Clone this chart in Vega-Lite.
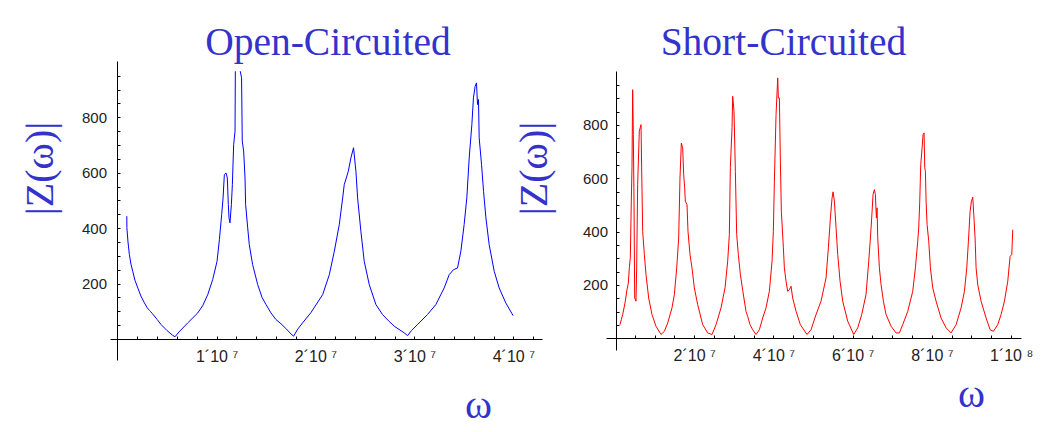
{
  "$schema": "https://vega.github.io/schema/vega-lite/v6.json",
  "padding": {"left": 19, "top": 22, "right": 0, "bottom": 0},
  "background": "white",
  "bounds": "flush",
  "center": true,
  "spacing": 64,
  "config": {"view": {"stroke": null}},
  "datasets": {
    "open": [
      {"omega": 930000, "Z": 443}, {"omega": 935000, "Z": 401}, {"omega": 1050000, "Z": 350}, {"omega": 1190000, "Z": 304},
      {"omega": 1350000, "Z": 270}, {"omega": 1530000, "Z": 244}, {"omega": 1750000, "Z": 212}, {"omega": 2040000, "Z": 184},
      {"omega": 2350000, "Z": 155}, {"omega": 2710000, "Z": 130}, {"omega": 3000000, "Z": 112}, {"omega": 3220000, "Z": 103},
      {"omega": 3300000, "Z": 100}, {"omega": 3500000, "Z": 92}, {"omega": 4000000, "Z": 70}, {"omega": 4390000, "Z": 52},
      {"omega": 5000000, "Z": 30}, {"omega": 5570000, "Z": 13}, {"omega": 5810000, "Z": 8}, {"omega": 6200000, "Z": 25},
      {"omega": 7090000, "Z": 58}, {"omega": 8100000, "Z": 94}, {"omega": 8600000, "Z": 120}, {"omega": 9110000, "Z": 160},
      {"omega": 9610000, "Z": 214}, {"omega": 10050000, "Z": 280}, {"omega": 10290000, "Z": 359}, {"omega": 10520000, "Z": 449},
      {"omega": 10660000, "Z": 509}, {"omega": 10790000, "Z": 593}, {"omega": 10960000, "Z": 599}, {"omega": 11090000, "Z": 581},
      {"omega": 11190000, "Z": 485}, {"omega": 11260000, "Z": 437}, {"omega": 11360000, "Z": 419}, {"omega": 11500000, "Z": 485},
      {"omega": 11600000, "Z": 557}, {"omega": 11730000, "Z": 701}, {"omega": 11870000, "Z": 750}, {"omega": 11900000, "Z": 966},
      {"omega": 12150000, "Z": null},
      {"omega": 12400000, "Z": 966}, {"omega": 12530000, "Z": 942}, {"omega": 12600000, "Z": 714}, {"omega": 12740000, "Z": 678},
      {"omega": 12880000, "Z": 581}, {"omega": 12940000, "Z": 485}, {"omega": 13150000, "Z": 401}, {"omega": 13310000, "Z": 340},
      {"omega": 13650000, "Z": 268}, {"omega": 14160000, "Z": 196}, {"omega": 14600000, "Z": 150}, {"omega": 15000000, "Z": 124},
      {"omega": 15500000, "Z": 94}, {"omega": 16000000, "Z": 70}, {"omega": 16510000, "Z": 55}, {"omega": 17000000, "Z": 38},
      {"omega": 17530000, "Z": 18}, {"omega": 17790000, "Z": 10}, {"omega": 18200000, "Z": 35}, {"omega": 18700000, "Z": 58},
      {"omega": 19540000, "Z": 95}, {"omega": 20730000, "Z": 160}, {"omega": 21400000, "Z": 232}, {"omega": 21910000, "Z": 317},
      {"omega": 22410000, "Z": 413}, {"omega": 22750000, "Z": 509}, {"omega": 22910000, "Z": 557}, {"omega": 23320000, "Z": 605},
      {"omega": 23580000, "Z": 653}, {"omega": 23850000, "Z": 690}, {"omega": 24090000, "Z": 605}, {"omega": 24260000, "Z": 509},
      {"omega": 24590000, "Z": 389}, {"omega": 24930000, "Z": 280}, {"omega": 25440000, "Z": 196}, {"omega": 26110000, "Z": 124},
      {"omega": 26780000, "Z": 88}, {"omega": 27400000, "Z": 65}, {"omega": 27960000, "Z": 46}, {"omega": 28970000, "Z": 22},
      {"omega": 29310000, "Z": 12}, {"omega": 29700000, "Z": 30}, {"omega": 30320000, "Z": 52}, {"omega": 31320000, "Z": 88},
      {"omega": 32170000, "Z": 124}, {"omega": 33010000, "Z": 184}, {"omega": 33520000, "Z": 232}, {"omega": 33960000, "Z": 250},
      {"omega": 34360000, "Z": 256}, {"omega": 34700000, "Z": 317}, {"omega": 35030000, "Z": 413}, {"omega": 35300000, "Z": 509},
      {"omega": 35540000, "Z": 653}, {"omega": 35810000, "Z": 774}, {"omega": 35970000, "Z": 870}, {"omega": 36140000, "Z": 912},
      {"omega": 36280000, "Z": 924}, {"omega": 36380000, "Z": 846}, {"omega": 36480000, "Z": 864}, {"omega": 36550000, "Z": 726},
      {"omega": 36790000, "Z": 629}, {"omega": 36990000, "Z": 533}, {"omega": 37230000, "Z": 437}, {"omega": 37560000, "Z": 340},
      {"omega": 38070000, "Z": 244}, {"omega": 38570000, "Z": 184}, {"omega": 39240000, "Z": 130}, {"omega": 39980000, "Z": 84}
    ],
    "short": [
      {"omega": 1260000, "Z": 51}, {"omega": 1600000, "Z": 70}, {"omega": 1940000, "Z": 89}, {"omega": 2530000, "Z": 132},
      {"omega": 3030000, "Z": 182}, {"omega": 3370000, "Z": 207}, {"omega": 3620000, "Z": 264}, {"omega": 3870000, "Z": 302},
      {"omega": 4120000, "Z": 514}, {"omega": 4290000, "Z": 639}, {"omega": 4460000, "Z": 932}, {"omega": 4630000, "Z": 764},
      {"omega": 4800000, "Z": 514}, {"omega": 4970000, "Z": 151}, {"omega": 5300000, "Z": 139}, {"omega": 5470000, "Z": 264},
      {"omega": 5720000, "Z": 576}, {"omega": 6140000, "Z": 776}, {"omega": 6570000, "Z": 801}, {"omega": 6730000, "Z": 639},
      {"omega": 6990000, "Z": 401}, {"omega": 7410000, "Z": 314}, {"omega": 7830000, "Z": 239}, {"omega": 8500000, "Z": 151},
      {"omega": 9340000, "Z": 89}, {"omega": 10350000, "Z": 45}, {"omega": 11620000, "Z": 14}, {"omega": 12460000, "Z": 26},
      {"omega": 13300000, "Z": 57}, {"omega": 14390000, "Z": 114}, {"omega": 14990000, "Z": 164}, {"omega": 15580000, "Z": 264},
      {"omega": 16080000, "Z": 376}, {"omega": 16410000, "Z": 601}, {"omega": 16750000, "Z": 732}, {"omega": 17090000, "Z": 714},
      {"omega": 17340000, "Z": 614}, {"omega": 17590000, "Z": 564}, {"omega": 17760000, "Z": 514}, {"omega": 18180000, "Z": 501},
      {"omega": 18430000, "Z": 401}, {"omega": 18940000, "Z": 314}, {"omega": 19440000, "Z": 264}, {"omega": 20030000, "Z": 189},
      {"omega": 20880000, "Z": 126}, {"omega": 22140000, "Z": 51}, {"omega": 23400000, "Z": 20}, {"omega": 24490000, "Z": 14},
      {"omega": 25510000, "Z": 51}, {"omega": 26770000, "Z": 114}, {"omega": 27780000, "Z": 189}, {"omega": 28450000, "Z": 289},
      {"omega": 28870000, "Z": 389}, {"omega": 29120000, "Z": 639}, {"omega": 29550000, "Z": 789}, {"omega": 29710000, "Z": 907},
      {"omega": 30050000, "Z": 851}, {"omega": 30390000, "Z": 626}, {"omega": 30720000, "Z": 389}, {"omega": 31140000, "Z": 314},
      {"omega": 31650000, "Z": 240}, {"omega": 32240000, "Z": 180}, {"omega": 33080000, "Z": 100}, {"omega": 33500000, "Z": 82},
      {"omega": 34090000, "Z": 51}, {"omega": 34760000, "Z": 32}, {"omega": 35610000, "Z": 14}, {"omega": 36450000, "Z": 32},
      {"omega": 37290000, "Z": 76}, {"omega": 38130000, "Z": 114}, {"omega": 38970000, "Z": 176}, {"omega": 39650000, "Z": 289},
      {"omega": 39980000, "Z": 401}, {"omega": 40240000, "Z": 589}, {"omega": 40660000, "Z": 839}, {"omega": 41080000, "Z": 976},
      {"omega": 41250000, "Z": 901}, {"omega": 41500000, "Z": 901}, {"omega": 41750000, "Z": 664}, {"omega": 42000000, "Z": 476},
      {"omega": 42510000, "Z": 339}, {"omega": 42760000, "Z": 264}, {"omega": 43180000, "Z": 214}, {"omega": 43600000, "Z": 176},
      {"omega": 44020000, "Z": 182}, {"omega": 44440000, "Z": 195}, {"omega": 44860000, "Z": 151}, {"omega": 45710000, "Z": 101},
      {"omega": 46800000, "Z": 51}, {"omega": 48480000, "Z": 14}, {"omega": 49490000, "Z": 32}, {"omega": 50760000, "Z": 89},
      {"omega": 52020000, "Z": 139}, {"omega": 53280000, "Z": 226}, {"omega": 53870000, "Z": 339}, {"omega": 54380000, "Z": 451},
      {"omega": 54800000, "Z": 526}, {"omega": 55050000, "Z": 549}, {"omega": 55390000, "Z": 514}, {"omega": 55810000, "Z": 414},
      {"omega": 56230000, "Z": 314}, {"omega": 56820000, "Z": 214}, {"omega": 57490000, "Z": 139}, {"omega": 58750000, "Z": 64},
      {"omega": 60270000, "Z": 14}, {"omega": 61280000, "Z": 39}, {"omega": 62290000, "Z": 89}, {"omega": 63380000, "Z": 164},
      {"omega": 64060000, "Z": 289}, {"omega": 64480000, "Z": 376}, {"omega": 64810000, "Z": 451}, {"omega": 65150000, "Z": 539},
      {"omega": 65490000, "Z": 557}, {"omega": 65740000, "Z": 539}, {"omega": 65910000, "Z": 476}, {"omega": 65990000, "Z": 451},
      {"omega": 66160000, "Z": 489}, {"omega": 66330000, "Z": 376}, {"omega": 66750000, "Z": 264}, {"omega": 67170000, "Z": 201},
      {"omega": 67760000, "Z": 139}, {"omega": 68430000, "Z": 89}, {"omega": 69700000, "Z": 45}, {"omega": 70960000, "Z": 20},
      {"omega": 71800000, "Z": 20}, {"omega": 72640000, "Z": 51}, {"omega": 73910000, "Z": 101}, {"omega": 75170000, "Z": 176},
      {"omega": 75840000, "Z": 264}, {"omega": 76430000, "Z": 364}, {"omega": 76680000, "Z": 414}, {"omega": 76940000, "Z": 514},
      {"omega": 77190000, "Z": 651}, {"omega": 77530000, "Z": 714}, {"omega": 77780000, "Z": 764}, {"omega": 78030000, "Z": 770},
      {"omega": 78200000, "Z": 639}, {"omega": 78370000, "Z": 626}, {"omega": 78540000, "Z": 514}, {"omega": 78790000, "Z": 426},
      {"omega": 79210000, "Z": 364}, {"omega": 79630000, "Z": 264}, {"omega": 80220000, "Z": 189}, {"omega": 81060000, "Z": 139},
      {"omega": 82320000, "Z": 76}, {"omega": 83590000, "Z": 39}, {"omega": 84850000, "Z": 20}, {"omega": 86120000, "Z": 51},
      {"omega": 87380000, "Z": 114}, {"omega": 88220000, "Z": 176}, {"omega": 88810000, "Z": 264}, {"omega": 89230000, "Z": 364},
      {"omega": 89650000, "Z": 476}, {"omega": 89990000, "Z": 514}, {"omega": 90320000, "Z": 529}, {"omega": 90580000, "Z": 464},
      {"omega": 90910000, "Z": 376}, {"omega": 91160000, "Z": 264}, {"omega": 91580000, "Z": 201}, {"omega": 92420000, "Z": 139},
      {"omega": 93690000, "Z": 76}, {"omega": 94700000, "Z": 32}, {"omega": 95540000, "Z": 26}, {"omega": 96630000, "Z": 51},
      {"omega": 97470000, "Z": 89}, {"omega": 98320000, "Z": 139}, {"omega": 99160000, "Z": 214}, {"omega": 99750000, "Z": 307},
      {"omega": 100170000, "Z": 314}, {"omega": 100420000, "Z": 407}
    ]
  },
  "hconcat": [
    {
      "width": 432,
      "height": 299,
      "title": {"text": "Open-Circuited", "font": "Liberation Serif", "fontSize": 39.5, "fontWeight": "normal", "color": "#3333cc", "anchor": "middle", "baseline": "alphabetic", "offset": -33, "dx": 2},
      "data": {"name": "open"},
      "mark": {"type": "line", "color": "#0000ff", "strokeWidth": 1, "clip": true, "invalid": "break-paths-show-domains"},
      "encoding": {
        "x": {
          "field": "omega", "type": "quantitative",
          "scale": {"domain": [-770000, 42900000], "nice": false, "zero": false},
          "axis": {
            "orient": "bottom", "offset": -21, "grid": false,
            "values": [2000000, 4000000, 6000000, 8000000, 10000000, 12000000, 14000000, 16000000, 18000000, 20000000, 22000000, 24000000, 26000000, 28000000, 30000000, 32000000, 34000000, 36000000, 38000000, 40000000, 42000000],
            "labelExpr": "datum.value % 10000000 === 0 ? format(datum.value / 10000000, 'd') + '´10 ⁷' : ''",
            "labelOverlap": false, "labelFlush": false,
            "labelFont": "Liberation Sans", "labelFontSize": 16, "labelColor": "#222222", "labelBaseline": "top", "labelPadding": 12.5,
            "tickSize": -3, "tickColor": "black", "domainColor": "black", "domainWidth": 1,
            "title": "ω", "titleFont": "Liberation Serif", "titleFontSize": 41, "titleFontWeight": "normal", "titleColor": "#3333cc",
            "titleX": 368, "titleY": 66, "titleAlign": "center", "titleBaseline": "middle", "titleAngle": 0
          }
        },
        "y": {
          "field": "Z", "type": "quantitative",
          "scale": {"domain": [-76, 1003], "nice": false, "zero": false},
          "axis": {
            "orient": "left", "offset": -7, "grid": false,
            "values": [50, 100, 150, 200, 250, 300, 350, 400, 450, 500, 550, 600, 650, 700, 750, 800, 850, 900, 950],
            "labelExpr": "datum.value % 200 === 0 ? format(datum.value, 'd') : ''",
            "labelOverlap": false, "labelFlush": false,
            "labelFont": "Liberation Sans", "labelFontSize": 15, "labelColor": "#222222", "labelPadding": 13.5,
            "tickSize": -3, "tickColor": "black", "domainColor": "black", "domainWidth": 1,
            "title": "|Z(ω)|", "titleFont": "Liberation Serif", "titleFontSize": 40, "titleFontWeight": "normal", "titleColor": "#3333cc",
            "titleX": -77, "titleY": 107, "titleAlign": "center", "titleBaseline": "middle", "titleAngle": -90
          }
        }
      }
    },
    {
      "width": 415,
      "height": 279,
      "title": {"text": "Short-Circuited", "font": "Liberation Serif", "fontSize": 39.5, "fontWeight": "normal", "color": "#3333cc", "anchor": "middle", "baseline": "alphabetic", "offset": -23, "dx": -30},
      "data": {"name": "short"},
      "mark": {"type": "line", "color": "#ff0000", "strokeWidth": 1, "clip": true},
      "encoding": {
        "x": {
          "field": "omega", "type": "quantitative",
          "scale": {"domain": [-2270000, 102500000], "nice": false, "zero": false},
          "axis": {
            "orient": "bottom", "offset": -12, "grid": false,
            "values": [5000000, 10000000, 15000000, 20000000, 25000000, 30000000, 35000000, 40000000, 45000000, 50000000, 55000000, 60000000, 65000000, 70000000, 75000000, 80000000, 85000000, 90000000, 95000000, 100000000],
            "labelExpr": "datum.value === 100000000 ? '1´10 ⁸' : (datum.value % 20000000 === 0 ? format(datum.value / 10000000, 'd') + '´10 ⁷' : '')",
            "labelOverlap": false, "labelFlush": false,
            "labelFont": "Liberation Sans", "labelFontSize": 16, "labelColor": "#222222", "labelBaseline": "top", "labelPadding": 12.5,
            "tickSize": -3, "tickColor": "black", "domainColor": "black", "domainWidth": 1,
            "title": "ω", "titleFont": "Liberation Serif", "titleFontSize": 41, "titleFontWeight": "normal", "titleColor": "#3333cc",
            "titleX": 365, "titleY": 56, "titleAlign": "center", "titleBaseline": "middle", "titleAngle": 0
          }
        },
        "y": {
          "field": "Z", "type": "quantitative",
          "scale": {"domain": [-44, 1002], "nice": false, "zero": false},
          "axis": {
            "orient": "left", "offset": -10, "grid": false,
            "values": [50, 100, 150, 200, 250, 300, 350, 400, 450, 500, 550, 600, 650, 700, 750, 800, 850, 900, 950],
            "labelExpr": "datum.value % 200 === 0 ? format(datum.value, 'd') : ''",
            "labelOverlap": false, "labelFlush": false,
            "labelFont": "Liberation Sans", "labelFontSize": 15, "labelColor": "#222222", "labelPadding": 11.5,
            "tickSize": -3, "tickColor": "black", "domainColor": "black", "domainWidth": 1,
            "title": "|Z(ω)|", "titleFont": "Liberation Serif", "titleFontSize": 40, "titleFontWeight": "normal", "titleColor": "#3333cc",
            "titleX": -82, "titleY": 97, "titleAlign": "center", "titleBaseline": "middle", "titleAngle": -90
          }
        }
      }
    }
  ]
}
